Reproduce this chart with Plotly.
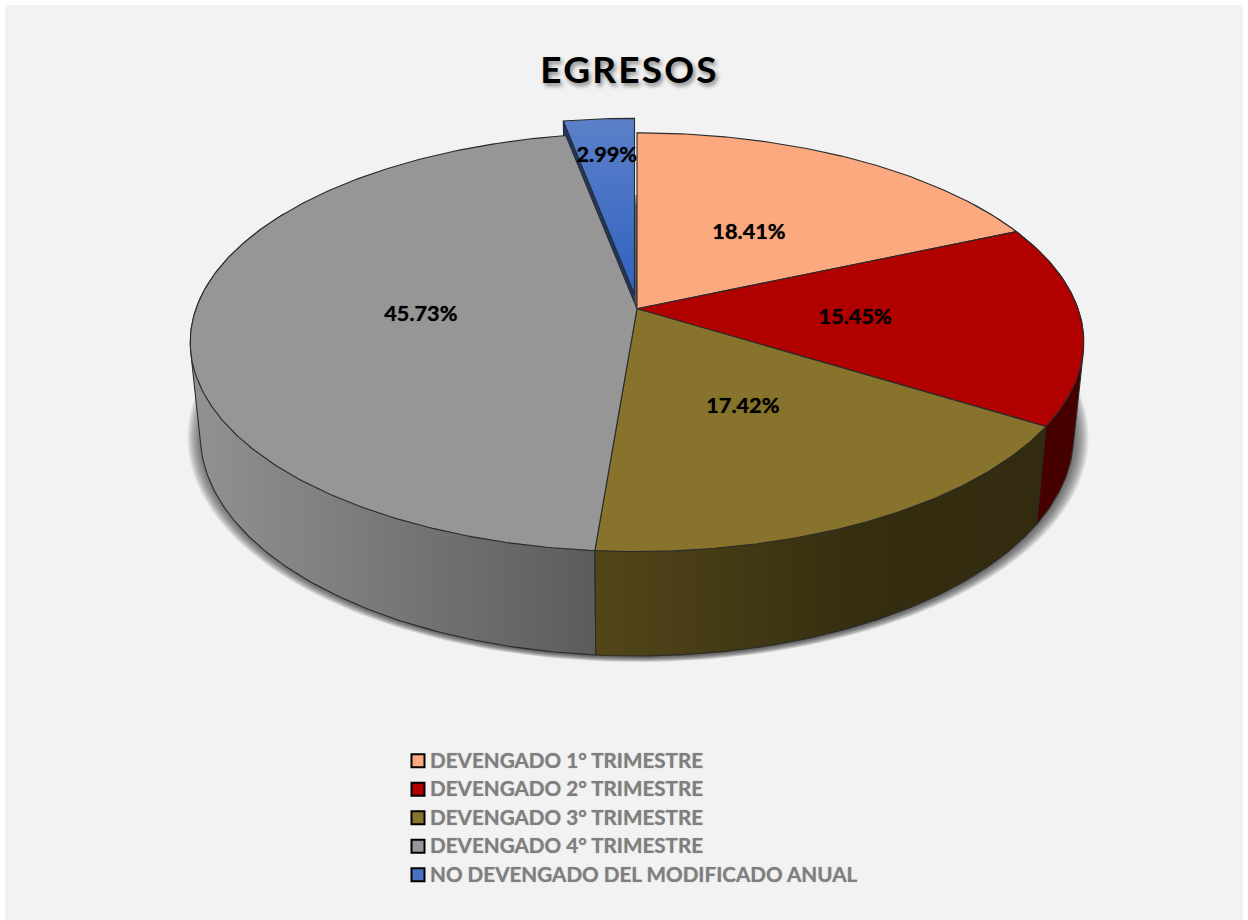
import numpy as np
import plotly.graph_objects as go

categories = ["DEVENGADO 1° TRIMESTRE", "DEVENGADO 2° TRIMESTRE", "DEVENGADO 3° TRIMESTRE",
              "DEVENGADO 4° TRIMESTRE", "NO DEVENGADO DEL MODIFICADO ANUAL"]
values = [18.41, 15.45, 17.42, 45.73, 2.99]
top_colors = ["#FDA97F", "#B00000", "#87732B", "#969696", "#4A72C4"]
title_text = "EGRESOS"

FONT = "Lato, Carlito, Calibri, sans-serif"
CX = 637.0
TOP = dict(A=441.0, B=204.0, b=0.16, cy=308.7)
BOT = dict(A=431.0, B=215.0, b=0.16, cy=400.0)
EXPLODE = (-2.5, -14.5)


def project(p, t_deg, r=1.0, off=(0.0, 0.0)):
    t = np.radians(np.asarray(t_deg, dtype=float))
    X, Y = r * np.sin(t), r * np.cos(t)
    d = 1 + p["b"] * Y
    return CX + p["A"] * X / d + off[0], p["cy"] - p["B"] * Y / d + off[1]


def arc(a, b, n=None):
    n = n or max(3, int(abs(b - a) * 1.5) + 2)
    return np.linspace(a, b, n)


def hull(xs, ys):
    pts = sorted(set(zip(map(float, xs), map(float, ys))))

    def half(seq):
        out = []
        for p in seq:
            while len(out) >= 2 and (out[-1][0] - out[-2][0]) * (p[1] - out[-2][1]) - \
                    (out[-1][1] - out[-2][1]) * (p[0] - out[-2][0]) <= 0:
                out.pop()
            out.append(p)
        return out[:-1]

    h = half(pts) + half(pts[::-1])
    return [p[0] for p in h], [p[1] for p in h]


edges = np.concatenate([[0], np.cumsum(values)]) / sum(values) * 360
E = "#2b2b2b"
fig = go.Figure()


def poly(xs, ys, fill=None, line=None, width=1.1, grad=None):
    kw = dict(x=list(xs) + [xs[0]], y=list(ys) + [ys[0]], mode="lines", fill="toself",
              hoverinfo="skip", showlegend=False,
              line=dict(color=line or "rgba(0,0,0,0)", width=width))
    if grad:
        kw["fillgradient"] = grad
    else:
        kw["fillcolor"] = fill
    fig.add_trace(go.Scatter(**kw))


def wall(a, b, **kw):
    tx, ty = project(TOP, arc(a, b))
    bx, by = project(BOT, arc(a, b))
    hx, hy = hull(list(tx) + list(bx), list(ty) + list(by))
    poly(hx, hy, line=E, **kw)


# soft shadow under the disc
tt = arc(0, 360, 240)
bx, by = project(BOT, tt)
my = by.mean()
for k in np.linspace(1.032, 0.99, 18):
    ky = 1 + (k - 1) * 0.55
    poly(CX + 1 + (bx - CX) * k, my + (by - my) * ky + 2, fill="rgba(45,45,45,0.065)")

# blue slice cut face
x1, y1 = project(TOP, edges[4], off=EXPLODE)
x2, y2 = project(BOT, edges[4], off=EXPLODE)
ax, ay = project(TOP, 0, r=0, off=EXPLODE)
bx2, by2 = project(BOT, 0, r=0, off=EXPLODE)
poly([ax, x1, x2, bx2], [ay, y1, y2, by2], fill="#1F3864", line="#1a2a4a")

# narrow dark gap between the blue slice and the peach slice
poly([ax, CX, CX, ax], [195, 195, TOP["cy"], TOP["cy"]],
     grad=dict(type="vertical", colorscale=[[0, "#5a5a5a"], [0.9, "#666666"], [1, "#b9b9b9"]]))

# side walls
wall(edges[1] - 10, edges[2], fill="#460000")
wall(edges[3], 300,
     grad=dict(type="horizontal", colorscale=[[0, "#929292"], [1, "#5c5c5c"]]))
wall(edges[2], edges[3],
     grad=dict(type="horizontal", colorscale=[[0, "#524619"], [0.6, "#352D10"], [1, "#332B0F"]]))

# top faces
for i in range(4):
    px, py = project(TOP, arc(edges[i], edges[i + 1]))
    poly([CX] + list(px), [TOP["cy"]] + list(py), fill=top_colors[i], line=E)

# exploded blue top face
px, py = project(TOP, arc(edges[4], edges[5]), off=EXPLODE)
poly([CX + EXPLODE[0]] + list(px), [TOP["cy"] + EXPLODE[1]] + list(py), line=E,
     grad=dict(type="vertical", colorscale=[[0, "#2F62C0"], [1, "#5C80C9"]]))

# value labels
mids = (edges[:-1] + edges[1:]) / 2
nudge_x = [-1, -3, -1, 5, 1]
nudge_y = [5, 3, 1, 1, 3]
lx, ly = [], []
for i, m in enumerate(mids):
    x_, y_ = project(TOP, m, r=0.5 if i < 4 else 0.78, off=EXPLODE if i == 4 else (0, 0))
    lx.append(float(x_) + nudge_x[i])
    ly.append(float(y_) + nudge_y[i])
fig.add_trace(go.Scatter(x=lx, y=ly, mode="text", text=[f"{v:.2f}%" for v in values],
                         textposition="middle center", hoverinfo="skip", showlegend=False,
                         textfont=dict(family=FONT, size=21.7, color="#000000", weight="bold",
                                       shadow="0 0 1px rgba(0,0,0,0.7)")))

# legend
LEG_X, LEG_Y0, LEG_DY = 418.0, 760.7, 28.5
leg_y = [LEG_Y0 + LEG_DY * i for i in range(len(categories))]
fig.add_trace(go.Scatter(x=[LEG_X] * 5, y=leg_y, mode="markers", hoverinfo="skip", showlegend=False,
                         marker=dict(symbol="square", size=13, color=top_colors,
                                     line=dict(color="#000000", width=2))))
fig.add_trace(go.Scatter(x=[LEG_X + 12] * 5, y=[v + 2 for v in leg_y], mode="text", text=categories,
                         textposition="middle right", hoverinfo="skip", showlegend=False,
                         textfont=dict(family=FONT, size=20.65, color="#7F7F7F", weight="bold",
                                       shadow="0 0 1px rgba(127,127,127,0.7)")))

fig.add_annotation(x=629, y=68, xref="x", yref="y", text=title_text, showarrow=False,
                   font=dict(family=FONT, size=37, color="#000000", weight="bold",
                             shadow="2px 3px 4px rgba(0,0,0,0.45)"))

fig.add_shape(type="rect", x0=5, y0=5, x1=1243, y1=920, xref="x", yref="y", layer="below",
              fillcolor="#F2F2F2", line=dict(width=0))
fig.update_layout(width=1248, height=920, margin=dict(l=0, r=0, t=0, b=0),
                  paper_bgcolor="#FFFFFF", plot_bgcolor="#FFFFFF", showlegend=False,
                  xaxis=dict(range=[0, 1248], visible=False, fixedrange=True),
                  yaxis=dict(range=[920, 0], visible=False, fixedrange=True))

post = """
document.body.style.margin='0';
document.documentElement.style.overflow='hidden';
document.querySelectorAll('.annotation-text').forEach(function(t){t.style.letterSpacing='2.2px';});
"""
fig.write_html("out.html", post_script=post, config={"displayModeBar": False})
